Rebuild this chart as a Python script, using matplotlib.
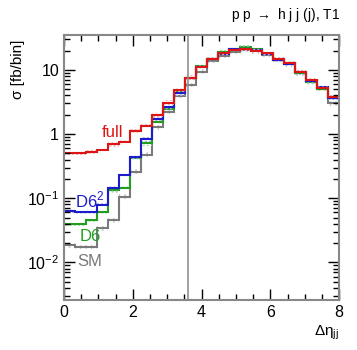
import numpy as np
import matplotlib
matplotlib.use("Agg")
import matplotlib.pyplot as plt
from matplotlib.ticker import MultipleLocator, LogLocator, NullFormatter

plt.rcParams['font.family'] = ['Liberation Sans', 'DejaVu Sans']
plt.rcParams['mathtext.fontset'] = 'custom'
plt.rcParams['mathtext.rm'] = 'Liberation Sans'

# 25 bins of width 0.32 between 0 and 8
edges = np.linspace(0, 8, 26)

full = [0.51, 0.51, 0.53, 0.56, 0.69, 0.74, 1.12, 1.35, 1.98, 3.1, 4.9, 7.5, 11.2,
        14.8, 18.3, 20.5, 21.3, 20.0, 18.3, 14.8, 13.0, 9.4, 7.0, 5.2, 3.8]
d6sq = [0.063, 0.060, 0.062, 0.078, 0.142, 0.229, 0.44, 0.83, 1.72, 2.6, 4.3, 7.4, 11.2,
        14.6, 18.0, 21.0, 21.5, 20.5, 17.9, 14.5, 12.5, 9.2, 6.8, 5.4, 3.7]
d6 = [0.040, 0.040, 0.046, 0.061, 0.133, 0.145, 0.42, 0.72, 1.55, 2.5, 4.5, 7.6, 11.5,
      15.0, 18.7, 21.0, 22.4, 21.0, 17.6, 14.5, 12.7, 9.1, 6.4, 5.1, 3.7]
sm = [0.0185, 0.0175, 0.0175, 0.034, 0.045, 0.106, 0.26, 0.48, 1.28, 2.2, 3.9, 5.8, 9.4,
      13.8, 16.7, 19.0, 20.5, 19.5, 17.0, 14.2, 12.2, 8.8, 6.6, 5.1, 3.0]

# relative uncertainty of the bands
rel_err = 0.08

series = [
    ("SM", sm, "#7a7a7a", "#c8c8c8", "|||"),
    ("D6", d6, "#1f9e1f", "#a8d8a8", "...."),
    ("D6$^2$", d6sq, "#1c1ccc", "#b0b0ee", "...."),
    ("full", full, "#dd1515", "#f0b0b0", "...."),
]

fig = plt.figure(figsize=(3.57, 3.5), dpi=100)
ax = fig.add_axes([0.179, 0.143, 0.771, 0.757])
ax.set_yscale("log")

for name, vals, col, light, hatch in series:
    v = np.array(vals)
    ax.stairs(v * (1 + rel_err), edges, baseline=v * (1 - rel_err), fill=True,
              facecolor="none", edgecolor=light, hatch=hatch, linewidth=0)
    ax.stairs(v, edges, color=col, linewidth=1.5, baseline=None)

ax.axvline(3.6, color="#909090", linewidth=1.2)

ax.set_xlim(0, 8)
ax.set_ylim(2.6e-3, 35)

ax.xaxis.set_major_locator(MultipleLocator(2))
ax.xaxis.set_minor_locator(MultipleLocator(0.5))
ax.yaxis.set_minor_locator(LogLocator(base=10, subs=np.arange(2, 10), numticks=10))
ax.yaxis.set_minor_formatter(NullFormatter())
ax.set_yticks([0.01, 0.1, 1, 10])
ax.set_yticklabels(["$10^{-2}$", "$10^{-1}$", "1", "10"])

ax.tick_params(which="both", direction="in", top=True, right=True, labelsize=11.5,
               color="black")
ax.tick_params(which="major", length=8, width=1)
ax.tick_params(which="minor", length=4, width=1)
for s in ax.spines.values():
    s.set_color("#888888")
    s.set_linewidth(1.5)

ax.set_ylabel("σ [fb/bin]", fontsize=11, labelpad=2)
ax.yaxis.set_label_coords(-0.14, 0.87)
ax.text(1.0, -0.09, "Δη$_{\\rm jj}$", transform=ax.transAxes, ha="right",
        va="top", fontsize=11)

fig.text(0.952, 0.93, "p p $\\rightarrow$ h j j (j), T1", ha="right", va="bottom",
         fontsize=10)

ax.text(1.42, 1.07, "full", color="#dd1515", fontsize=12, ha="center", va="center")
ax.text(0.76, 0.095, "D6$^2$", color="#1c1ccc", fontsize=12, ha="center", va="center")
ax.text(0.76, 0.025, "D6", color="#1f9e1f", fontsize=12, ha="center", va="center")
ax.text(0.76, 0.0105, "SM", color="#7a7a7a", fontsize=12, ha="center", va="center")

fig.savefig("out.png", dpi=100)
